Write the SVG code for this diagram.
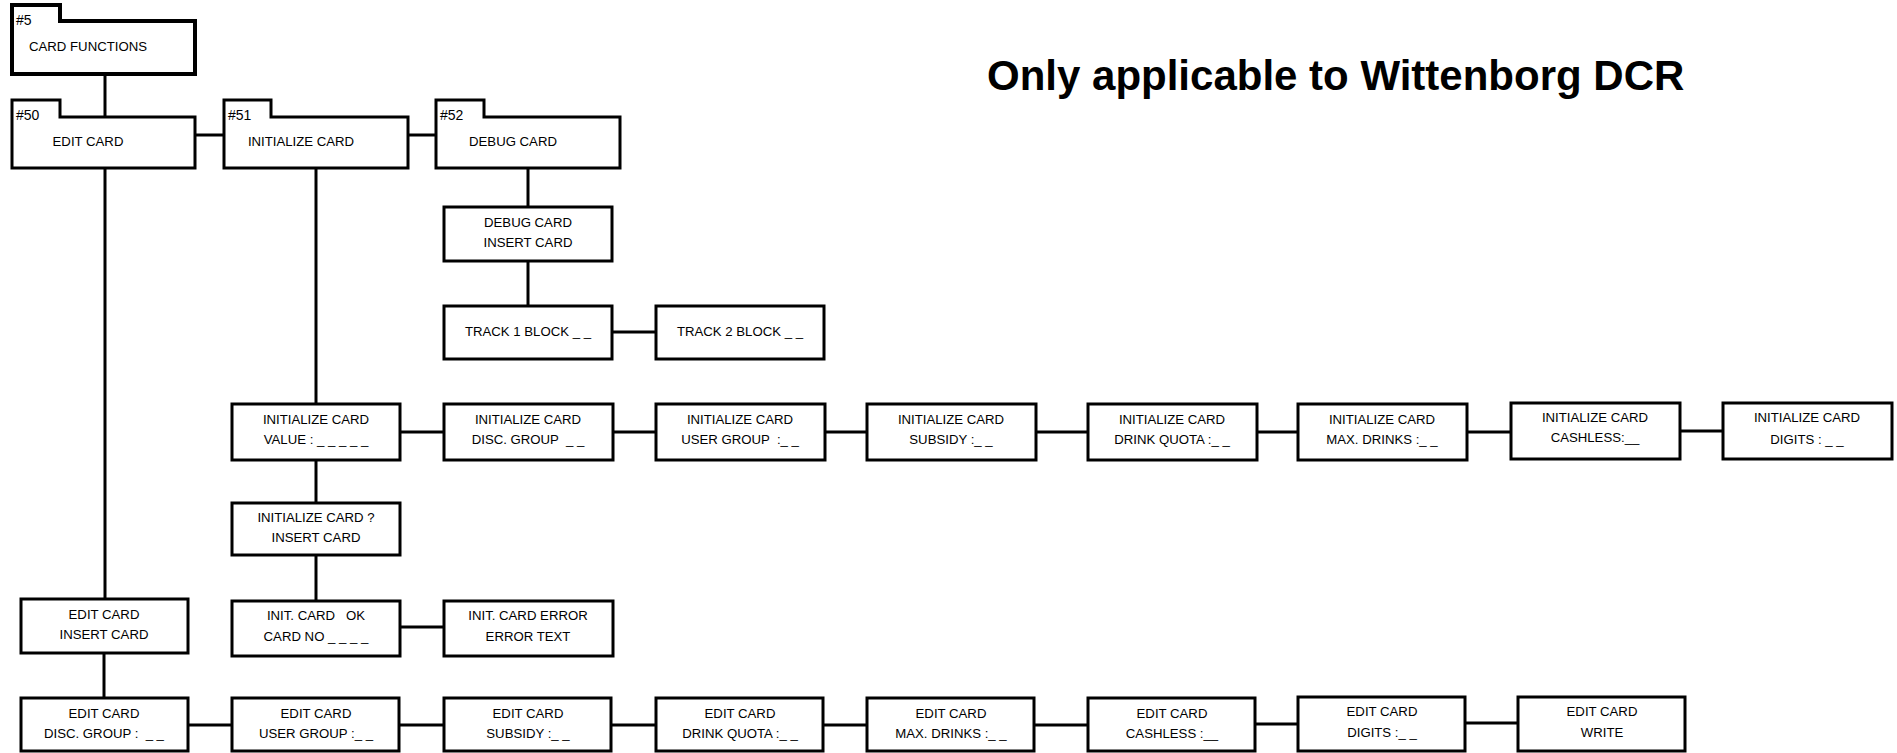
<svg xmlns="http://www.w3.org/2000/svg" width="1897" height="753" viewBox="0 0 1897 753">
  <style>
    .box { fill: #fff; stroke: #000; stroke-width: 3; }
    .menu { fill: #fff; stroke: #000; stroke-width: 3; stroke-linejoin: miter; }
    .top { stroke-width: 4; }
    .wire { stroke: #000; stroke-width: 3; fill: none; }
    text { font-family: "Liberation Sans", Arial, sans-serif; font-size: 13.2px; fill: #000; white-space: pre; }
    .c { text-anchor: middle; }
    .tag { font-size: 14px; }
    .title { font-size: 42px; font-weight: bold; }
  </style>

  <!-- connectors -->
  <g id="connectors" class="wire">
    <line x1="105" y1="74" x2="105" y2="117"/>
    <line x1="195" y1="135" x2="224" y2="135"/>
    <line x1="408" y1="135" x2="436" y2="135"/>
    <line x1="105" y1="168" x2="105" y2="599"/>
    <line x1="316" y1="168" x2="316" y2="404"/>
    <line x1="528" y1="168" x2="528" y2="207"/>
    <line x1="528" y1="261" x2="528" y2="306"/>
    <line x1="612" y1="332" x2="656" y2="332"/>
    <line x1="316" y1="460" x2="316" y2="503"/>
    <line x1="316" y1="555" x2="316" y2="601"/>
    <line x1="400" y1="627" x2="444" y2="627"/>
    <line x1="400" y1="432" x2="444" y2="432"/>
    <line x1="613" y1="432" x2="656" y2="432"/>
    <line x1="825" y1="432" x2="867" y2="432"/>
    <line x1="1036" y1="432" x2="1088" y2="432"/>
    <line x1="1257" y1="432" x2="1298" y2="432"/>
    <line x1="1467" y1="432" x2="1511" y2="432"/>
    <line x1="1680" y1="431" x2="1723" y2="431"/>
    <line x1="104" y1="653" x2="104" y2="698"/>
    <line x1="188" y1="725" x2="232" y2="725"/>
    <line x1="399" y1="725" x2="444" y2="725"/>
    <line x1="611" y1="725" x2="656" y2="725"/>
    <line x1="823" y1="725" x2="867" y2="725"/>
    <line x1="1034" y1="725" x2="1088" y2="725"/>
    <line x1="1255" y1="724" x2="1298" y2="724"/>
    <line x1="1465" y1="723" x2="1518" y2="723"/>
  </g>

  <!-- menu folders -->
  <g id="n5">
    <path class="menu top" d="M12,74 V5 H60 V21 H195 V74 Z"/>
    <text class="tag" x="16" y="25">#5</text>
    <text class="c" x="88" y="51">CARD FUNCTIONS</text>
  </g>
  <g id="n50">
    <path class="menu" d="M12,168 V100 H60 V117 H195 V168 Z"/>
    <text class="tag" x="16" y="120">#50</text>
    <text class="c" x="88" y="146">EDIT CARD</text>
  </g>
  <g id="n51">
    <path class="menu" d="M224,168 V100 H271 V117 H408 V168 Z"/>
    <text class="tag" x="228" y="120">#51</text>
    <text class="c" x="301" y="146">INITIALIZE CARD</text>
  </g>
  <g id="n52">
    <path class="menu" d="M436,168 V100 H484 V117 H620 V168 Z"/>
    <text class="tag" x="440" y="120">#52</text>
    <text class="c" x="513" y="146">DEBUG CARD</text>
  </g>

  <!-- debug card branch -->
  <g id="debug-insert">
    <rect class="box" x="444" y="207" width="168" height="54"/>
    <text class="c" x="528" y="227">DEBUG CARD</text>
    <text class="c" x="528" y="247">INSERT CARD</text>
  </g>
  <g id="track1">
    <rect class="box" x="444" y="306" width="168" height="53"/>
    <text class="c" x="528" y="336">TRACK 1 BLOCK _ _</text>
  </g>
  <g id="track2">
    <rect class="box" x="656" y="306" width="168" height="53"/>
    <text class="c" x="740" y="336">TRACK 2 BLOCK _ _</text>
  </g>

  <!-- initialize card branch -->
  <g id="init-value">
    <rect class="box" x="232" y="404" width="168" height="56"/>
    <text class="c" x="316" y="424">INITIALIZE CARD</text>
    <text class="c" x="316" y="444">VALUE : _ _ _ _ _</text>
  </g>
  <g id="init-disc">
    <rect class="box" x="444" y="404" width="169" height="56"/>
    <text class="c" x="528" y="424">INITIALIZE CARD</text>
    <text class="c" x="528" y="444">DISC. GROUP  _ _</text>
  </g>
  <g id="init-user">
    <rect class="box" x="656" y="404" width="169" height="56"/>
    <text class="c" x="740" y="424">INITIALIZE CARD</text>
    <text class="c" x="740" y="444">USER GROUP  :_ _</text>
  </g>
  <g id="init-subsidy">
    <rect class="box" x="867" y="404" width="169" height="56"/>
    <text class="c" x="951" y="424">INITIALIZE CARD</text>
    <text class="c" x="951" y="444">SUBSIDY :_ _</text>
  </g>
  <g id="init-quota">
    <rect class="box" x="1088" y="404" width="169" height="56"/>
    <text class="c" x="1172" y="424">INITIALIZE CARD</text>
    <text class="c" x="1172" y="444">DRINK QUOTA :_ _</text>
  </g>
  <g id="init-max">
    <rect class="box" x="1298" y="404" width="169" height="56"/>
    <text class="c" x="1382" y="424">INITIALIZE CARD</text>
    <text class="c" x="1382" y="444">MAX. DRINKS :_ _</text>
  </g>
  <g id="init-cashless">
    <rect class="box" x="1511" y="403" width="169" height="56"/>
    <text class="c" x="1595" y="422">INITIALIZE CARD</text>
    <text class="c" x="1595" y="442">CASHLESS:__</text>
  </g>
  <g id="init-digits">
    <rect class="box" x="1723" y="403" width="169" height="56"/>
    <text class="c" x="1807" y="422">INITIALIZE CARD</text>
    <text class="c" x="1807" y="444">DIGITS : _ _</text>
  </g>
  <g id="init-confirm">
    <rect class="box" x="232" y="503" width="168" height="52"/>
    <text class="c" x="316" y="522">INITIALIZE CARD ?</text>
    <text class="c" x="316" y="542">INSERT CARD</text>
  </g>
  <g id="init-ok">
    <rect class="box" x="232" y="601" width="168" height="55"/>
    <text class="c" x="316" y="620">INIT. CARD   OK</text>
    <text class="c" x="316" y="641">CARD NO _ _ _ _</text>
  </g>
  <g id="init-error">
    <rect class="box" x="444" y="601" width="169" height="55"/>
    <text class="c" x="528" y="620">INIT. CARD ERROR</text>
    <text class="c" x="528" y="641">ERROR TEXT</text>
  </g>

  <!-- edit card branch -->
  <g id="edit-insert">
    <rect class="box" x="21" y="599" width="167" height="54"/>
    <text class="c" x="104" y="619">EDIT CARD</text>
    <text class="c" x="104" y="639">INSERT CARD</text>
  </g>
  <g id="edit-disc">
    <rect class="box" x="21" y="698" width="167" height="53"/>
    <text class="c" x="104" y="718">EDIT CARD</text>
    <text class="c" x="104" y="738">DISC. GROUP :  _ _</text>
  </g>
  <g id="edit-user">
    <rect class="box" x="232" y="698" width="167" height="53"/>
    <text class="c" x="316" y="718">EDIT CARD</text>
    <text class="c" x="316" y="738">USER GROUP :_ _</text>
  </g>
  <g id="edit-subsidy">
    <rect class="box" x="444" y="698" width="167" height="53"/>
    <text class="c" x="528" y="718">EDIT CARD</text>
    <text class="c" x="528" y="738">SUBSIDY :_ _</text>
  </g>
  <g id="edit-quota">
    <rect class="box" x="656" y="698" width="167" height="53"/>
    <text class="c" x="740" y="718">EDIT CARD</text>
    <text class="c" x="740" y="738">DRINK QUOTA :_ _</text>
  </g>
  <g id="edit-max">
    <rect class="box" x="867" y="698" width="167" height="53"/>
    <text class="c" x="951" y="718">EDIT CARD</text>
    <text class="c" x="951" y="738">MAX. DRINKS :_ _</text>
  </g>
  <g id="edit-cashless">
    <rect class="box" x="1088" y="698" width="167" height="53"/>
    <text class="c" x="1172" y="718">EDIT CARD</text>
    <text class="c" x="1172" y="738">CASHLESS :__</text>
  </g>
  <g id="edit-digits">
    <rect class="box" x="1298" y="697" width="167" height="54"/>
    <text class="c" x="1382" y="716">EDIT CARD</text>
    <text class="c" x="1382" y="737">DIGITS :_ _</text>
  </g>
  <g id="edit-write">
    <rect class="box" x="1518" y="697" width="167" height="54"/>
    <text class="c" x="1602" y="716">EDIT CARD</text>
    <text class="c" x="1602" y="737">WRITE</text>
  </g>

  <!-- heading -->
  <text class="title" x="987" y="90">Only applicable to Wittenborg DCR</text>
</svg>
